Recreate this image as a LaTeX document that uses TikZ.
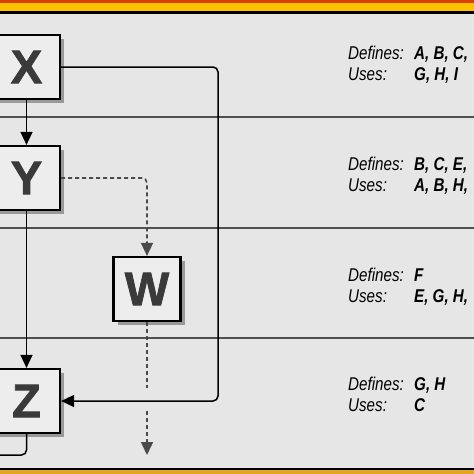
\documentclass[tikz,border=0pt]{standalone}
\usepackage{fontspec}
\setmainfont{Liberation Sans}
\newfontfamily\labfont[FakeStretch=0.82]{Liberation Sans}
\newfontfamily\boxfont[FakeBold=1.6]{Liberation Sans}
\usetikzlibrary{arrows.meta,shadows}
\definecolor{bg}{HTML}{E6E6E6}
\definecolor{boxfill}{HTML}{EDEDED}
\definecolor{letter}{HTML}{3A3A3A}
\definecolor{sep}{HTML}{505050}
\definecolor{topred}{HTML}{D8400A}
\definecolor{topyellow}{HTML}{FFC000}
\definecolor{botgold}{HTML}{E2A526}
\definecolor{dashc}{HTML}{4A4A4A}
\tikzset{
  blk/.style={draw=black, line width=2.2pt, fill=boxfill, minimum width=67pt, minimum height=64pt, inner sep=0pt,
    font={\boxfont\bfseries\fontsize{47pt}{47pt}\selectfont}, text=letter,
    drop shadow={shadow xshift=4pt, shadow yshift=-4pt, fill=black!60, opacity=0.6}},
  deflab/.style={anchor=base west, inner sep=0pt, font={\labfont\itshape\fontsize{18.5pt}{18.5pt}\selectfont}, text=black},
  defval/.style={anchor=base west, inner sep=0pt, font={\labfont\bfseries\itshape\fontsize{18.5pt}{18.5pt}\selectfont}, text=black},
  conn/.style={draw=black, line width=1.5pt, rounded corners=5pt},
  dconn/.style={draw=dashc, line width=1.6pt, dash pattern=on 4pt off 3pt, rounded corners=5pt},
  arr/.style={-{Triangle[length=13pt,width=12pt]}},
  sepline/.style={draw=sep, line width=2.8pt}
}
\begin{document}
\begin{tikzpicture}[x=1pt,y=-1pt]
\clip (0,0) rectangle (474,474);
\fill[bg] (0,0) rectangle (474,474);
% top and bottom bands
\fill[topred] (0,0) rectangle (474,2.5);
\fill[topyellow] (0,2.5) rectangle (474,11);
\fill[black] (0,11) rectangle (474,13.5);
\fill[black] (0,467.5) rectangle (474,470);
\fill[botgold] (0,470) rectangle (474,474);
% separators
\draw[sepline] (0,117) -- (474,117);
\draw[sepline] (0,228) -- (474,228);
\draw[sepline] (0,338) -- (474,338);
% boxes
\node[blk] (X) at (26.5,67) {X};
\node[blk] (Y) at (26.5,178) {Y};
\node[blk] (W) at (147,289) {W};
\node[blk] (Z) at (26.5,401) {Z};
% helper coordinates
\coordinate (xr) at (218,67);
\coordinate (wgapA) at (147,388);
\coordinate (wgapB) at (147,411);
\coordinate (wend) at (147,455);
\coordinate (zout) at (-6,455);
% connectors
\draw[conn,arr] (X.east) -- (xr) |- (Z.east);
\draw[conn,arr] (X.south) -- (Y.north);
\draw[conn,arr] (Y.south) -- (Z.north);
\draw[dconn,arr] (Y.east) -| (W.north);
\draw[dconn] (W.south) -- (wgapA);
\draw[dconn,arr] (wgapB) -- (wend);
\draw[conn] (Z.south) |- (zout);
% texts
\node[deflab] (d1) at (348,59) {Defines:};
\node[defval] (d1v) at (414,59) {A, B, C,};
\node[deflab] (u1) at (348,80) {Uses:};
\node[defval] (u1v) at (414,80) {G, H, I};
\node[deflab] (d2) at (348,170) {Defines:};
\node[defval] (d2v) at (414,170) {B, C, E,};
\node[deflab] (u2) at (348,191) {Uses:};
\node[defval] (u2v) at (414,191) {A, B, H,};
\node[deflab] (d3) at (348,281) {Defines:};
\node[defval] (d3v) at (414,281) {F};
\node[deflab] (u3) at (348,302) {Uses:};
\node[defval] (u3v) at (414,302) {E, G, H,};
\node[deflab] (d4) at (348,390) {Defines:};
\node[defval] (d4v) at (414,390) {G, H};
\node[deflab] (u4) at (348,411) {Uses:};
\node[defval] (u4v) at (414,411) {C};
\end{tikzpicture}
\end{document}
